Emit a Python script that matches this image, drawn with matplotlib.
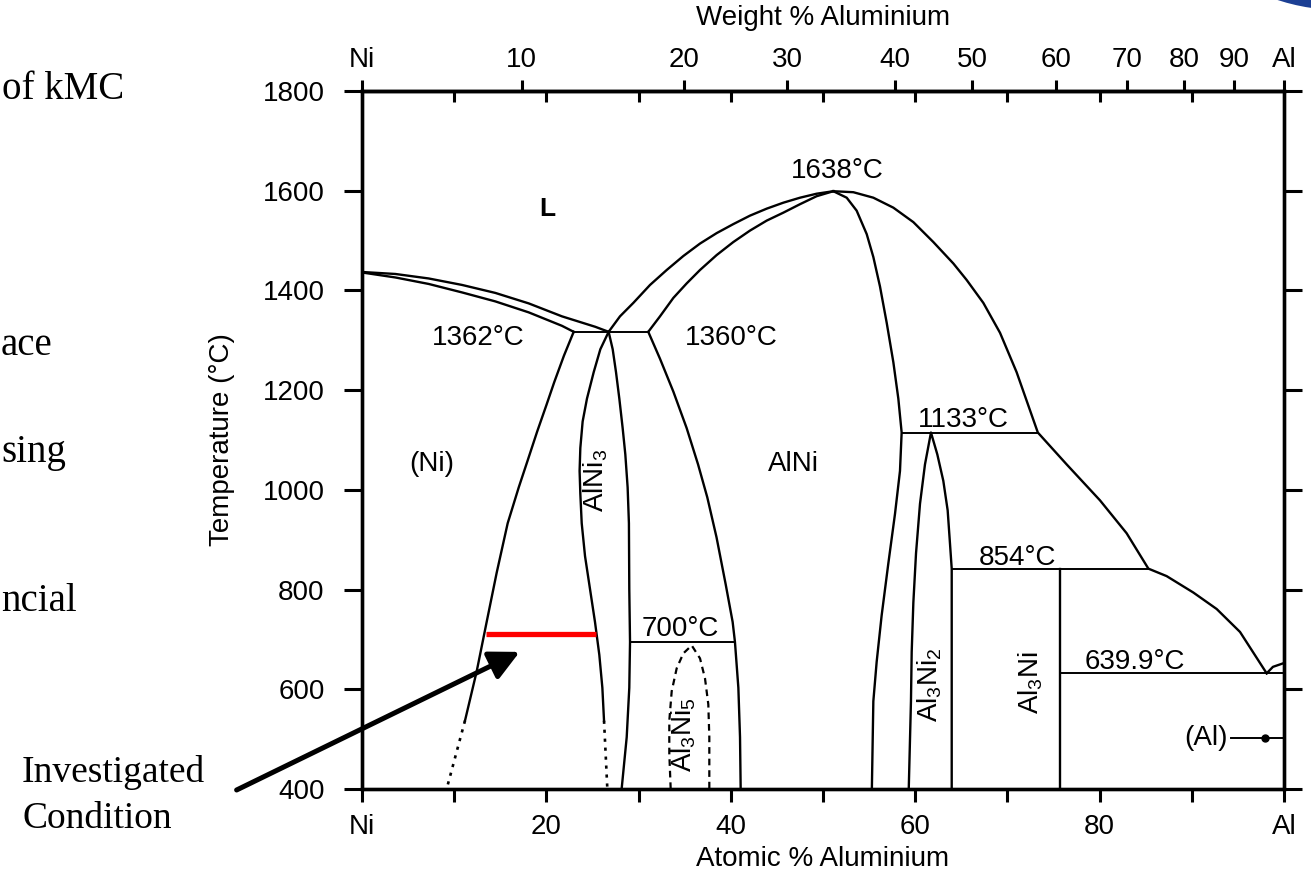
import matplotlib
matplotlib.use("Agg")
import matplotlib.pyplot as plt
from matplotlib.patches import Circle
from matplotlib.transforms import IdentityTransform

plt.rcParams['font.family'] = ['Liberation Sans', 'DejaVu Sans']
plt.rcParams['mathtext.fontset'] = 'custom'
plt.rcParams['mathtext.rm'] = 'Liberation Sans'
plt.rcParams['mathtext.it'] = 'Liberation Sans:italic'
plt.rcParams['mathtext.bf'] = 'Liberation Sans:bold'

# --- phase boundaries: (atomic % Al, temperature in C) ---
ni_liq_x = [0, 3.62, 7.23, 10.85, 14.46, 18.08, 21.69, 25.31, 26.75]
ni_liq_t = [1437, 1433, 1424, 1411, 1395, 1374, 1348, 1327, 1317]
ni_sol_x = [0, 3.62, 7.23, 10.85, 14.46, 18.08, 21.69, 22.96]
ni_sol_t = [1436, 1426, 1413, 1396, 1378, 1356, 1329, 1317]

ni_solvus_x = [22.96, 21.9, 20.85, 20.0, 19.0, 17.95, 17.0, 15.8, 14.61, 13.52, 12.44, 11.17]
ni_solvus_t = [1317, 1269, 1216, 1170, 1117, 1058, 1005, 933, 834, 735, 636, 537]
ni_solvus_dot_x = [11.17, 9.18]
ni_solvus_dot_t = [537, 400]

alni3_left_x = [26.75, 25.85, 25.13, 24.40, 23.93, 23.68, 23.60, 23.68, 23.83, 24.19, 24.73,
                25.27, 25.74, 26.07, 26.25]
alni3_left_t = [1317, 1282, 1236, 1183, 1137, 1084, 1038, 992, 933, 867, 801, 735, 669, 603, 537]
alni3_left_dot_x = [26.25, 26.61]
alni3_left_dot_t = [537, 400]
alni3_right_x = [26.75, 27.19, 27.55, 27.91, 28.27, 28.56, 28.81, 28.95, 28.99, 29.07, 28.99, 28.71, 28.16]
alni3_right_t = [1317, 1282, 1236, 1183, 1124, 1071, 1005, 933, 801, 695, 603, 504, 400]

alni_liq_x = [26.75, 27.98, 29.43, 31.24, 33.05, 34.85, 36.66, 38.47, 40.27, 42.08, 43.89, 45.70,
              47.51, 49.31, 51.12]
alni_liq_t = [1317, 1348, 1375, 1411, 1441, 1469, 1494, 1515, 1533, 1550, 1564, 1576, 1586, 1594, 1599]
alni_sol_x = [31.05, 32.32, 33.77, 35.21, 36.66, 38.47, 40.27, 42.08, 43.89, 45.70, 47.51, 49.31, 51.12]
alni_sol_t = [1317, 1348, 1385, 1414, 1441, 1471, 1497, 1520, 1540, 1556, 1573, 1589, 1599]
alni_left_x = [31.05, 32.32, 33.77, 35.21, 36.45, 37.45, 38.45, 39.45, 40.2, 40.45, 40.82, 41.0, 41.07]
alni_left_t = [1317, 1263, 1197, 1124, 1051, 985, 905, 810, 735, 695, 603, 504, 400]
alni_right_x = [51.12, 52.57, 53.65, 54.74, 55.46, 56.18, 56.91, 57.63, 58.17, 58.53,
                58.35, 57.81, 57.09, 56.36, 55.82, 55.46, 55.3]
alni_right_t = [1599, 1586, 1560, 1513, 1467, 1408, 1335, 1256, 1183, 1115,
                1038, 952, 853, 748, 655, 576, 400]

al3ni5_x = [33.48, 33.33, 33.33, 33.59, 34.13, 34.85, 35.76, 36.66, 37.2, 37.56, 37.67, 37.67]
al3ni5_t = [400, 471, 537, 596, 642, 672, 688, 662, 622, 570, 504, 400]

liq_right_x = [51.12, 53.29, 55.46, 57.63, 59.80, 61.97, 64.14, 65.58, 67.39, 69.20, 71.0, 73.3,
               76.43, 80.04, 82.93, 85.29, 87.27, 90.17, 92.70, 95.23, 98.12]
liq_right_t = [1599, 1597, 1586, 1566, 1537, 1497, 1454, 1421, 1375, 1315, 1236, 1115,
               1051, 979, 913, 842, 827, 794, 761, 715, 632]

al3ni2_x = [59.3, 59.54, 59.62, 59.80, 60.09, 60.52, 61.06, 61.71, 62.40, 63.05, 63.52, 63.77, 63.96, 63.96]
al3ni2_t = [400, 576, 675, 774, 873, 972, 1051, 1115, 1071, 1018, 959, 893, 842, 400]

al3ni_x = [75.7, 75.7]
al3ni_t = [842, 400]
al_sol_x = [98.12, 98.8, 99.9]
al_sol_t = [632, 645, 652]

# invariant lines: (x from, x to, temperature)
iso_x0 = [22.96, 29.07, 58.53, 63.96, 75.7]
iso_x1 = [31.05, 40.45, 73.3, 85.29, 100]
iso_t = [1317, 695, 1115, 842, 632]

# investigated condition
red_x = [13.4, 25.4]
red_t = [710, 710]

# labels: text, at% Al, temperature, rotation
lab_text = ['L', '(Ni)', '1362°C', 'AlNi$_3$', '1360°C', '1638°C', 'AlNi', '1133°C',
            '854°C', '639.9°C', '700°C', 'Al$_3$Ni$_5$', 'Al$_3$Ni$_2$', 'Al$_3$Ni', '(Al)']
lab_x = [20.1, 7.6, 12.65, 25.3, 40.1, 51.55, 46.8, 65.2, 71.07, 83.84, 34.5, 34.85, 61.6, 72.5, 91.5]
lab_t = [1563, 1051, 1305, 1018, 1305, 1639, 1051, 1141, 863, 655, 721, 510, 610, 614, 503]
lab_rot = [0, 0, 0, 90, 0, 0, 0, 0, 0, 0, 0, 90, 90, 90, 0]

# axes ticks
at_ticks = [0, 20, 40, 60, 80, 100]
at_labels = ['Ni', '20', '40', '60', '80', 'Al']
at_minor = [10, 30, 50, 70, 90]
wt_labels = ['Ni', '10', '20', '30', '40', '50', '60', '70', '80', '90', 'Al']
wt_at_pos = [0, 17.3, 34.9, 46.1, 57.8, 66.2, 75.3, 83.0, 89.2, 94.6, 100]
t_ticks = [400, 600, 800, 1000, 1200, 1400, 1600, 1800]

W, H = 1311, 873
fig = plt.figure(figsize=(W / 100, H / 100), dpi=100)
ax = fig.add_axes([362 / W, 1 - 789 / H, (1284 - 362) / W, (789 - 91) / H])
ax.set_xlim(0, 100)
ax.set_ylim(400, 1800)

lw = 1.7
k = dict(color='black', lw=lw, solid_joinstyle='round')
ax.plot(ni_liq_x, ni_liq_t, **k)
ax.plot(ni_sol_x, ni_sol_t, **k)
ax.plot(ni_solvus_x, ni_solvus_t, **k)
ax.plot(ni_solvus_dot_x, ni_solvus_dot_t, color='black', lw=1.9, ls=(0, (1.2, 2.2)))
ax.plot(alni3_left_x, alni3_left_t, **k)
ax.plot(alni3_left_dot_x, alni3_left_dot_t, color='black', lw=1.9, ls=(0, (1.2, 2.2)))
ax.plot(alni3_right_x, alni3_right_t, **k)
ax.plot(alni_liq_x, alni_liq_t, **k)
ax.plot(alni_sol_x, alni_sol_t, **k)
ax.plot(alni_left_x, alni_left_t, **k)
ax.plot(alni_right_x, alni_right_t, **k)
ax.plot(al3ni5_x, al3ni5_t, color='black', lw=1.6, ls=(0, (3, 2.2)))
ax.plot(liq_right_x, liq_right_t, **k)
ax.plot(al3ni2_x, al3ni2_t, **k)
ax.plot(al3ni_x, al3ni_t, **k)
ax.plot(al_sol_x, al_sol_t, **k)
for x0, x1, t in zip(iso_x0, iso_x1, iso_t):
    ax.plot([x0, x1], [t, t], color='black', lw=1.4)

# (Al) leader
ax.plot([94.3, 99.9], [503, 503], color='black', lw=1.4)
ax.plot([97.9], [503], marker='o', ms=5, color='black')

ax.plot(red_x, red_t, color='#ff0000', lw=3.8, solid_capstyle='butt')

for s, x, t, r in zip(lab_text, lab_x, lab_t, lab_rot):
    bold = s == 'L'
    ax.text(x, t, s, rotation=r, ha='center', va='center', fontsize=19 if bold else 20,
            fontweight='bold' if bold else 'normal')

ax.annotate('', xy=(17.1, 675), xytext=(-13.6, 398), annotation_clip=False,
            arrowprops=dict(arrowstyle='-|>,head_length=0.9,head_width=0.45',
                            mutation_scale=20, lw=3.6, color='black',
                            shrinkA=0, shrinkB=0))

for sp in ax.spines.values():
    sp.set_linewidth(2.4)

ax.set_xticks(at_ticks)
ax.set_xticklabels(at_labels)
ax.set_xticks(at_minor, minor=True)
ax.tick_params(axis='x', which='both', direction='out', length=9, width=2.2,
               labelsize=20, pad=9)
ax.set_yticks(t_ticks)
ax.tick_params(axis='y', which='both', direction='out', length=13, width=2.2,
               right=True, labelsize=20, pad=14)
ax.set_xlabel('Atomic % Aluminium', fontsize=20, labelpad=4)
ax.set_ylabel('Temperature (°C)', fontsize=20, labelpad=20)

sec = ax.secondary_xaxis('top')
sec.set_xticks(list(range(10, 100, 10)))
sec.tick_params(direction='in', length=8, width=2.2, labeltop=False)
sec.spines['top'].set_linewidth(2.4)

ax2 = ax.twiny()
ax2.set_xlim(0, 100)
ax2.set_xticks(wt_at_pos)
ax2.set_xticklabels(wt_labels)
ax2.tick_params(axis='x', direction='out', length=8, width=2.2, labelsize=20, pad=5)
ax2.set_xlabel('Weight % Aluminium', fontsize=20, labelpad=16)
for sp in ax2.spines.values():
    sp.set_linewidth(2.4)

# slide text around the figure
serif = ['Liberation Serif', 'DejaVu Serif']
fig.text(2 / W, 1 - 99 / H, 'of kMC', ha='left', va='baseline', family=serif, size=28)
fig.text(1 / W, 1 - 355 / H, 'ace', ha='left', va='baseline', family=serif, size=28)
fig.text(1 / W, 1 - 462 / H, 'sing', ha='left', va='baseline', family=serif, size=28)
fig.text(1 / W, 1 - 611 / H, 'ncial', ha='left', va='baseline', family=serif, size=28)
fig.text(22 / W, 1 - 782 / H, 'Investigated', ha='left', va='baseline', family=serif, size=27)
fig.text(22 / W, 1 - 828 / H, 'Condition', ha='left', va='baseline', family=serif, size=27)

fig.add_artist(Circle((1340, H + 190), 200, transform=IdentityTransform(),
                      facecolor='#1c3f94', edgecolor='none'))

fig.savefig('out.png', dpi=100)
